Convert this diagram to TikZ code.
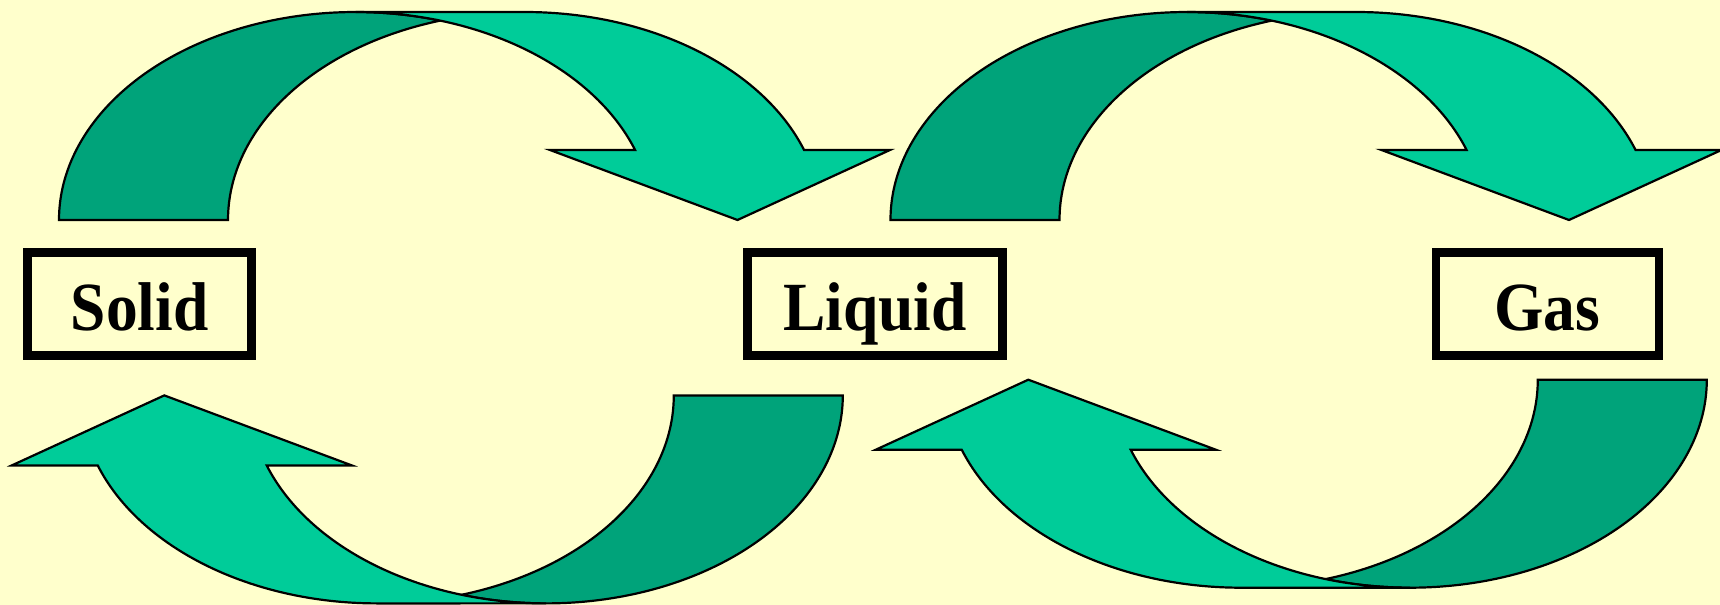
\documentclass[tikz,border=0pt]{standalone}
\usepackage{fontspec}
\setmainfont{Liberation Serif}
\usepackage{graphicx}
\definecolor{bg}{HTML}{FFFFCC}
\definecolor{lightg}{HTML}{00CC99}
\definecolor{darkg}{HTML}{00A37A}
\newcommand\phasearrow{%
  \path[backpart] (59,220)
     arc[start angle=180, end angle=73.45, x radius=148.35pt, y radius=104pt]
     arc[start angle=106.55, end angle=180, x radius=148.35pt, y radius=104pt] -- cycle;
  \path[frontpart] (737.5,220) -- (550,150) -- (635.1,150)
     arc[start angle=19.67, end angle=90, x radius=148.35pt, y radius=104pt]
     -- (524.7,12)
     arc[start angle=90, end angle=19.67, x radius=148.35pt, y radius=104pt]
     -- (890,150) -- cycle;
}
\begin{document}
\begin{tikzpicture}[x=0.5pt,y=-0.5pt,
  arrowline/.style={draw=black, line width=1.1pt, line join=miter},
  backpart/.style={arrowline, fill=darkg},
  frontpart/.style={arrowline, fill=lightg},
  statebox/.style={draw=black, line width=4.35pt, inner sep=0pt,
    minimum height=51.5pt, text height=25.85pt, text depth=0pt,
    font=\fontsize{34.5}{40}\selectfont\bfseries},
]
\fill[bg] (0,0) rectangle (1720,605);
\useasboundingbox (0,0) rectangle (1720,605);

% Solid -> Liquid (top left)
\begin{scope}
  \phasearrow
\end{scope}
% Liquid -> Gas (top right)
\begin{scope}[shift={(831.5,0)}]
  \phasearrow
\end{scope}
% Liquid -> Solid (bottom left)
\begin{scope}[rotate around={180:(450.9,307.7)}]
  \phasearrow
\end{scope}
% Gas -> Liquid (bottom right)
\begin{scope}[rotate around={180:(882.9,299.85)}]
  \phasearrow
\end{scope}

\node[statebox, minimum width=112pt] (solid) at (139.65,304.15) {\scalebox{0.92}[1]{Solid}};
\node[statebox, minimum width=127.35pt] (liquid) at (875,304.15) {\scalebox{0.92}[1]{Liquid}};
\node[statebox, minimum width=111.45pt] (gas) at (1547.5,304.15) {\scalebox{0.92}[1]{Gas}};
\end{tikzpicture}
\end{document}
